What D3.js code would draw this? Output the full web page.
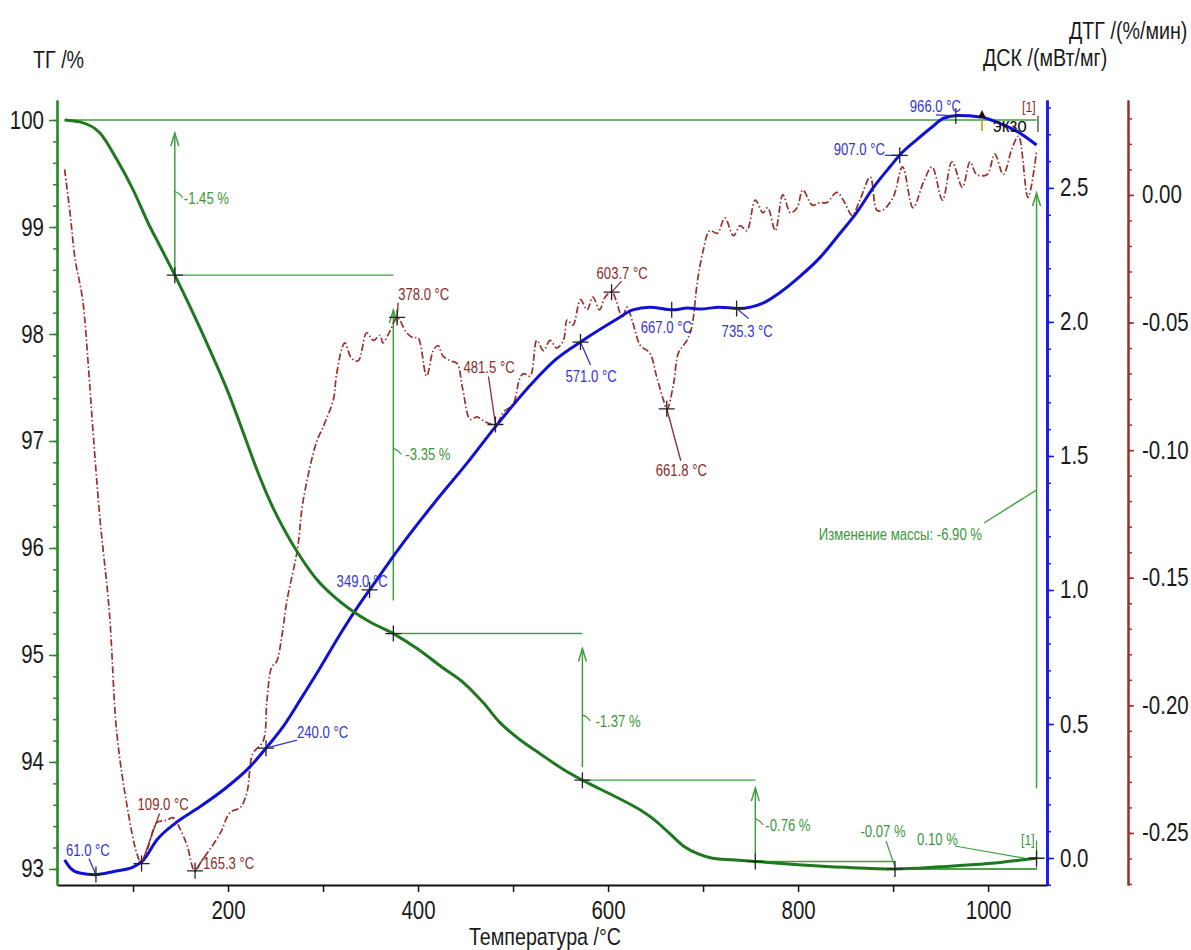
<!DOCTYPE html>
<html>
<head>
<meta charset="utf-8">
<script src="https://cdn.jsdelivr.net/npm/d3@7"></script>
<style>
  body { margin: 0; background: #fff; }
  svg { display: block; }
</style>
</head>
<body>
<svg id="chart" width="1191" height="950"></svg>
<script>
// TG curve (mass, %)
const tgTemp = [28, 45, 65, 83, 100, 118, 125, 144, 163, 181, 199, 216, 230, 244, 258, 276, 293, 311, 328, 349,
  374, 399, 426, 448, 469, 486, 507, 528, 553, 573, 609, 634, 650, 665, 680, 695, 710, 730, 755, 800,
  850, 902, 950, 1000, 1030, 1051];
const tgMass = [100.00, 99.98, 99.88, 99.63, 99.35, 99.00, 98.88, 98.55, 98.20, 97.85, 97.48, 97.08, 96.74, 96.44, 96.19, 95.92, 95.71, 95.55, 95.43, 95.31,
  95.20, 95.06, 94.88, 94.74, 94.55, 94.37, 94.21, 94.08, 93.93, 93.83, 93.67, 93.55, 93.45, 93.33, 93.21, 93.14, 93.10, 93.085, 93.07, 93.04,
  93.015, 93.00, 93.02, 93.05, 93.08, 93.10];

// DSC curve (mW/mg)
const dscTemp = [28, 34, 44, 60, 80, 100, 111, 125, 146, 170, 199, 223, 241, 258, 276, 297, 318, 339, 349, 381,
  416, 452, 483, 521, 545, 573, 609, 626, 644, 668, 684, 697, 717, 737, 763, 781, 802, 823, 844, 862,
  879, 897, 909, 925, 942, 953, 968, 992, 1013, 1031, 1051];
const dscVal = [-0.007, -0.037, -0.056, -0.062, -0.050, -0.034, -0.007, 0.067, 0.134, 0.190, 0.265, 0.340, 0.414, 0.490, 0.590, 0.710, 0.835, 0.950, 1.000, 1.160,
  1.320, 1.475, 1.616, 1.775, 1.860, 1.930, 2.010, 2.045, 2.055, 2.045, 2.052, 2.048, 2.055, 2.050, 2.070, 2.110, 2.170, 2.240, 2.330, 2.410,
  2.500, 2.580, 2.630, 2.680, 2.730, 2.760, 2.770, 2.765, 2.740, 2.710, 2.660];

// DTG curve (%/min)
const dtgTemp = [28, 34, 39, 47, 53, 58, 65, 75, 83, 94, 104, 109, 114, 118, 125, 136, 142, 149, 157, 165,
  172, 178, 192, 202, 213, 220, 226, 237, 241, 246, 251, 257, 262, 273, 279, 293, 300, 311, 314, 320,
  323, 330, 337, 346, 353, 360, 363, 371, 378, 388, 395, 400, 409, 416, 421, 426, 434, 441, 447, 455,
  462, 471, 482, 490, 500, 507, 511, 518, 525, 532, 539, 546, 553, 557, 563, 571, 578, 584, 591, 597,
  604, 609, 615, 620, 626, 634, 644, 651, 658, 662, 669, 674, 683, 688, 694, 700, 707, 715, 723, 732,
  739, 746, 755, 763, 768, 776, 784, 792, 799, 805, 815, 823, 830, 841, 849, 857, 865, 876, 883, 889,
  900, 910, 921, 932, 941, 952, 962, 973, 981, 988, 999, 1007, 1016, 1025, 1032, 1042, 1051];
const dtgVal = [0.010, -0.008, -0.025, -0.041, -0.067, -0.093, -0.126, -0.163, -0.211, -0.240, -0.258, -0.262, -0.258, -0.253, -0.246, -0.245, -0.244, -0.248, -0.255, -0.265,
  -0.261, -0.258, -0.250, -0.242, -0.240, -0.234, -0.219, -0.214, -0.198, -0.185, -0.183, -0.172, -0.159, -0.139, -0.120, -0.097, -0.091, -0.080, -0.071, -0.060,
  -0.058, -0.064, -0.065, -0.054, -0.057, -0.055, -0.058, -0.053, -0.048, -0.054, -0.056, -0.056, -0.071, -0.061, -0.059, -0.063, -0.065, -0.066, -0.076, -0.088,
  -0.087, -0.089, -0.090, -0.085, -0.082, -0.072, -0.070, -0.071, -0.057, -0.061, -0.057, -0.060, -0.057, -0.049, -0.051, -0.041, -0.045, -0.040, -0.045, -0.040,
  -0.038, -0.042, -0.048, -0.044, -0.050, -0.059, -0.062, -0.071, -0.080, -0.084, -0.074, -0.062, -0.057, -0.052, -0.034, -0.022, -0.014, -0.015, -0.009, -0.016,
  -0.012, -0.014, -0.002, -0.007, -0.005, -0.014, 0.000, -0.007, -0.005, 0.002, -0.004, -0.003, -0.003, 0.001, -0.003, -0.008, -0.002, 0.007, -0.006, -0.006,
  -0.001, 0.011, -0.005, 0.005, 0.011, -0.002, 0.013, 0.003, 0.013, 0.008, 0.008, 0.016, 0.008, 0.018, 0.023, -0.001, 0.017];

// evaluated points
const dtgPeakT = [109.0, 165.3, 378.0, 481.5, 603.7, 661.8];
const dscPeakT = [61.0, 240.0, 349.0, 571.0, 667.0, 735.3, 907.0, 966.0];
const stepT = [144, 374, 573, 755, 902, 1051];
const stepDelta = [-1.45, -3.35, -1.37, -0.76, -0.07, 0.10];
const totalChange = -6.90;

// axes
const tempTicks = [200, 400, 600, 800, 1000];
const tgTicks = [93, 94, 95, 96, 97, 98, 99, 100];
const dscTicks = [0.0, 0.5, 1.0, 1.5, 2.0, 2.5];
const dtgTicks = [0.00, -0.05, -0.10, -0.15, -0.20, -0.25];

// ---- layout ----
const FONT = '"Liberation Sans", Arial, sans-serif';
const NARROW = 0.82; // the original uses a condensed face
const plot = { left: 57, right: 1047, top: 100, bottom: 885 };
const dtgAxisX = 1128;

const cTG = "#1f781f", cGreen = "#3f9f3f", cGreenText = "#3b963b";
const cBlue = "#1111d6", cBlueText = "#3434cc";
const cRed = "#9c2e2c", cRedText = "#8e2a28";

// label offsets relative to the marker cross (text start / baseline, leader end)
const dtgLabelPos = [
  { tx: -4, ty: -54, lx: 18, ly: -50 },
  { tx: 8, ty: -2, lx: 10, ly: -15 },
  { tx: 1, ty: -17, lx: 1, ly: -15 },
  { tx: -32, ty: -52, lx: -7, ly: -48 },
  { tx: -15, ty: -13, lx: 10, ly: -11 },
  { tx: -11, ty: 67, lx: 14, ly: 52 },
];
const dscLabelPos = [
  { tx: -30, ty: -18, lx: -7, ly: -16 },
  { tx: 31, ty: -10, lx: 31, ly: -8 },
  { tx: -33, ty: -3, lx: 0, ly: 0 },
  { tx: -15, ty: 40, lx: 10, ly: 23 },
  { tx: -31, ty: 23, lx: 0, ly: 0 },
  { tx: -15, ty: 29, lx: 12, ly: 10 },
  { tx: -66, ty: 0, lx: -15, ly: 0 },
  { tx: -46, ty: -4, lx: -20, ly: -1 },
];
// arrow gaps in px: [above cross, below previous level], label x offset, label y shift
const stepArrowLayout = [
  { g0: 0, g1: 13, dx: 9, dy: 0 },
  { g0: 33, g1: 35, dx: 12, dy: 0 },
  { g0: 13, g1: 15, dx: 13, dy: 14 },
  { g0: 7, g1: 8, dx: 10, dy: 4 },
];

const x = d3.scaleLinear().domain([20, 1062]).range([plot.left, plot.right]);
const yTG = d3.scaleLinear().domain([92.85, 100.187]).range([plot.bottom, plot.top]);
const yDSC = d3.scaleLinear().domain([-0.1007, 2.828]).range([plot.bottom, plot.top]);
const yDTG = d3.scaleLinear().domain([-0.2704, 0.0372]).range([plot.bottom, plot.top]);

const svg = d3.select("#chart");

function interp(ts, vs, t) {
  const i = Math.max(1, Math.min(ts.length - 1, d3.bisectLeft(ts, t)));
  const k = (t - ts[i - 1]) / (ts[i] - ts[i - 1]);
  return vs[i - 1] + k * (vs[i] - vs[i - 1]);
}

function minusFix(s) {
  return s.replace("\u2212", "-");
}

function drawCross(g, px, py) {
  g.append("path")
    .attr("d", `M${px - 8},${py}H${px + 8}M${px},${py - 8}V${py + 8}`)
    .attr("stroke", "#222")
    .attr("stroke-width", 1.3)
    .attr("fill", "none");
}

function label(g, px, py, text, color, size, anchor) {
  return g.append("text")
    .attr("x", px)
    .attr("y", py)
    .attr("fill", color)
    .attr("font-family", FONT)
    .attr("font-size", size)
    .attr("text-anchor", anchor || "start")
    .text(text);
}

function line(g, x1, y1, x2, y2, color, w) {
  g.append("line")
    .attr("x1", x1).attr("y1", y1)
    .attr("x2", x2).attr("y2", y2)
    .attr("stroke", color)
    .attr("stroke-width", w || 1.4);
}

function arrowUp(g, px, yFrom, yTo, color) {
  line(g, px, yFrom, px, yTo, color, 1.5);
  g.append("path")
    .attr("d", `M${px - 4},${yTo + 13}L${px},${yTo}L${px + 4},${yTo + 13}`)
    .attr("stroke", color)
    .attr("stroke-width", 1.5)
    .attr("fill", "none");
}

// squeeze every text horizontally around its own anchor
function narrowText(sel) {
  sel.each(function() {
    const t = d3.select(this);
    const tx = +t.attr("x") || 0, ty = +t.attr("y") || 0;
    t.attr("x", 0).attr("y", 0).attr("transform", `translate(${tx},${ty}) scale(${NARROW},1)`);
  });
}

// ---- axes ----
function styleAxis(g, color, width) {
  g.select(".domain").attr("stroke", color).attr("stroke-width", width);
  g.selectAll(".tick line").attr("stroke", color).attr("stroke-width", 1.5);
  g.selectAll(".tick text")
    .attr("fill", "#1a1a1a")
    .attr("font-family", FONT)
    .attr("font-size", 25);
}

function setupAxes() {
  // temperature
  const gx = svg.append("g")
    .attr("transform", `translate(0,${plot.bottom})`)
    .call(d3.axisBottom(x)
      .tickValues(d3.range(100, 1001, 100))
      .tickSize(7)
      .tickSizeOuter(0)
      .tickPadding(9)
      .tickFormat(d => tempTicks.includes(d) ? d : ""));
  styleAxis(gx, "#111", 2);

  // TG, left
  const tgMinor = d3.range(93, 100.01, 0.2);
  const gm = svg.append("g")
    .attr("transform", `translate(${plot.left},0)`)
    .call(d3.axisLeft(yTG).tickValues(tgMinor).tickSize(4).tickSizeOuter(0).tickFormat(""));
  styleAxis(gm, "#2b8a2b", 2.2);
  const gy = svg.append("g")
    .attr("transform", `translate(${plot.left},0)`)
    .call(d3.axisLeft(yTG).tickValues(tgTicks).tickSize(8).tickSizeOuter(0).tickPadding(5));
  styleAxis(gy, "#2b8a2b", 2.2);

  // DSC, right
  const dscMinor = d3.range(-0.1, 2.81, 0.1);
  const gdm = svg.append("g")
    .attr("transform", `translate(${plot.right},0)`)
    .call(d3.axisRight(yDSC).tickValues(dscMinor).tickSize(4).tickSizeOuter(0).tickFormat(""));
  styleAxis(gdm, "#1a1ae6", 2.6);
  const gd = svg.append("g")
    .attr("transform", `translate(${plot.right},0)`)
    .call(d3.axisRight(yDSC).tickValues(dscTicks).tickSize(7).tickSizeOuter(0).tickPadding(6)
      .tickFormat(d => minusFix(d3.format(".1f")(d))));
  styleAxis(gd, "#1a1ae6", 2.6);

  // DTG, far right
  const dtgMinor = d3.range(-0.27, 0.031, 0.01);
  const gtm = svg.append("g")
    .attr("transform", `translate(${dtgAxisX},0)`)
    .call(d3.axisRight(yDTG).tickValues(dtgMinor).tickSize(4).tickSizeOuter(0).tickFormat(""));
  styleAxis(gtm, cRed, 2);
  const gt = svg.append("g")
    .attr("transform", `translate(${dtgAxisX},0)`)
    .call(d3.axisRight(yDTG).tickValues(dtgTicks).tickSize(6).tickSizeOuter(0).tickPadding(8)
      .tickFormat(d => minusFix(d3.format(".2f")(d))));
  styleAxis(gt, cRed, 2);

  label(svg, 33, 68, "ТГ /%", "#1a1a1a", 24);
  label(svg, 983, 66, "ДСК /(мВт/мг)", "#1a1a1a", 24);
  label(svg, 1069, 39, "ДТГ /(%/мин)", "#1a1a1a", 24);
  label(svg, 545, 945, "Температура /°C", "#1a1a1a", 24, "middle");
}

// ---- mass steps ----
function drawSteps(g) {
  const levels = [100];
  stepDelta.forEach(d => levels.push(+(levels[levels.length - 1] + d).toFixed(2)));
  const xs = stepT.map(t => x(t));

  // top reference line
  line(g, x(tgTemp[0]), yTG(100), xs[xs.length - 1], yTG(100), cGreen);

  // horizontal levels
  for (let i = 0; i < stepT.length - 1; i++) {
    line(g, xs[i], yTG(levels[i + 1]), xs[i + 1], yTG(levels[i + 1]), cGreen);
  }

  // arrows with values
  stepArrowLayout.forEach((s, i) => {
    const yLow = yTG(levels[i + 1]) - s.g0;
    const yHigh = yTG(levels[i]) + s.g1;
    arrowUp(g, xs[i], yLow, yHigh, cGreen);
    const mid = (yTG(levels[i + 1]) + yTG(levels[i])) / 2 + s.dy;
    g.append("path")
      .attr("d", `M${xs[i]},${mid - 6}L${xs[i] + 4},${mid - 4}L${xs[i] + 8},${mid}`)
      .attr("stroke", cGreen).attr("stroke-width", 1.2).attr("fill", "none");
    label(g, xs[i] + s.dx, mid + 6, `${minusFix(d3.format(".2f")(stepDelta[i]))} %`, cGreenText, 16);
  });

  // small steps at the end
  const y5 = yTG(levels[5]);
  label(g, 883, 837, `${minusFix(d3.format(".2f")(stepDelta[4]))} %`, cGreenText, 16, "middle");
  line(g, 886, 841, xs[4], y5 - 2, cGreen, 1.2);
  line(g, xs[4], y5, xs[5], y5, cGreen);
  line(g, xs[5], yTG(levels[6]) - 18, xs[5], y5, cGreen, 1.2);
  label(g, 917, 845, `${d3.format(".2f")(stepDelta[5])} %`, cGreenText, 16);
  line(g, 955, 846, xs[5] - 6, yTG(levels[6]) + 1, cGreen, 1.2);
  label(g, 1021, 845, "[1]", cGreenText, 15);

  // total change
  const xe = xs[xs.length - 1];
  arrowUp(g, xe, yTG(levels[6]) - 70, yTG(100) + 73, cGreen);
  line(g, 984, 523, xe, 490, cGreen, 1.4);
  label(g, 982, 540, `Изменение массы: ${minusFix(d3.format(".2f")(totalChange))} %`, cGreenText, 16, "end");

  return levels;
}

// ---- curves ----
function drawCurves(g) {
  const dtgLine = d3.line()
    .x((d, i) => x(dtgTemp[i]))
    .y(d => yDTG(d))
    .curve(d3.curveCatmullRom.alpha(0.5));
  g.append("path")
    .attr("d", dtgLine(dtgVal))
    .attr("fill", "none")
    .attr("stroke", cRed)
    .attr("stroke-width", 1.7)
    .attr("stroke-dasharray", "7,2.5,1.5,2.5");

  const dscLine = d3.line()
    .x((d, i) => x(dscTemp[i]))
    .y(d => yDSC(d))
    .curve(d3.curveMonotoneX);
  g.append("path")
    .attr("d", dscLine(dscVal))
    .attr("fill", "none")
    .attr("stroke", cBlue)
    .attr("stroke-width", 3);

  const tgLine = d3.line()
    .x((d, i) => x(tgTemp[i]))
    .y(d => yTG(d))
    .curve(d3.curveMonotoneX);
  g.append("path")
    .attr("d", tgLine(tgMass))
    .attr("fill", "none")
    .attr("stroke", cTG)
    .attr("stroke-width", 3);
}

// ---- markers ----
function drawMarkers(g, levels) {
  stepT.forEach((t, i) => drawCross(g, x(t), yTG(levels[i + 1])));

  dtgPeakT.forEach((t, i) => {
    const px = x(t), py = yDTG(interp(dtgTemp, dtgVal, t));
    const p = dtgLabelPos[i];
    if (p.lx || p.ly) line(g, px, py, px + p.lx, py + p.ly, cRedText, 1.3);
    drawCross(g, px, py);
    label(g, px + p.tx, py + p.ty, `${t.toFixed(1)} °C`, cRedText, 16);
  });

  dscPeakT.forEach((t, i) => {
    const px = x(t), py = yDSC(interp(dscTemp, dscVal, t));
    const p = dscLabelPos[i];
    if (p.lx || p.ly) line(g, px, py, px + p.lx, py + p.ly, cBlueText, 1.3);
    drawCross(g, px, py);
    label(g, px + p.tx, py + p.ty, `${t.toFixed(1)} °C`, cBlueText, 16);
  });

  // exo marker
  line(g, 982, 131, 982, 116, "#b39b00", 1.5);
  g.append("path").attr("d", "M978,118L982,110L986,118Z").attr("fill", "#111");
  label(g, 993, 132, "экзо", "#111", 21);
  line(g, 1038, 116, 1038, 132, "#333", 1.2);
  label(g, 1022, 112, "[1]", cRedText, 15);
}

const g = svg.append("g");
const gAnn = g.append("g");
const levels = drawSteps(gAnn);
drawCurves(g.append("g"));
drawMarkers(g.append("g"), levels);
setupAxes();
svg.selectAll("text").call(narrowText);
</script>
</body>
</html>
